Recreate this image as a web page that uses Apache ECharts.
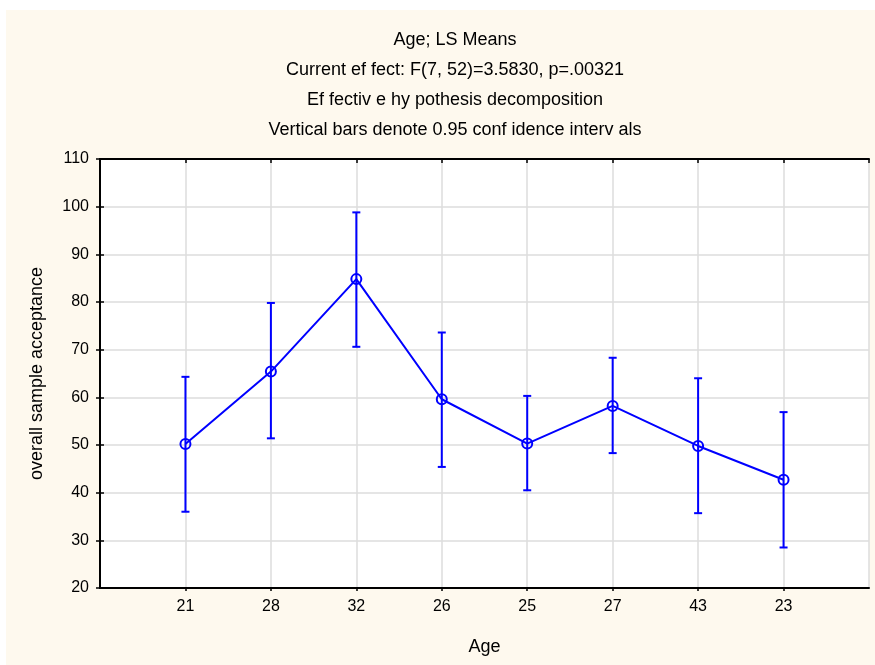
<!DOCTYPE html>
<html>
<head>
<meta charset="utf-8">
<script src="https://cdn.jsdelivr.net/npm/echarts@6/dist/echarts.min.js"></script>
<style>
  html, body { margin: 0; padding: 0; background: #ffffff; }
  #frame { position: absolute; left: 6px; top: 10px; width: 869px; height: 655px; background: #fef9ee; }
  #chart { position: absolute; left: 0; top: 0; width: 875px; height: 665px; }
</style>
</head>
<body>
<div id="frame"></div>
<div id="chart"></div>
<script>
// Age groups in plotting order
const ages = ['21', '28', '32', '26', '25', '27', '43', '23'];
// LS means of overall sample acceptance
const means = [50.2, 65.4, 84.8, 59.6, 50.3, 58.2, 49.8, 42.7];
// 95% confidence interval bounds
const lower = [36.0, 51.4, 70.6, 45.4, 40.5, 48.3, 35.7, 28.5];
const upper = [64.3, 79.8, 98.8, 73.6, 60.3, 68.3, 64.0, 56.9];
// y-axis range
const yMin = 20, yMax = 110, yStep = 10;

const titleLines = [
  'Age; LS Means',
  'Current ef fect: F(7, 52)=3.5830, p=.00321',
  'Ef fectiv e hy pothesis decomposition',
  'Vertical bars denote 0.95 conf idence interv als'
];

const FONT = 'Liberation Sans, Arial, sans-serif';
const BLUE = '#0000ff';

const chart = echarts.init(document.getElementById('chart'), null, { renderer: 'canvas' });

const catLabel = v => (v >= 1 && v <= ages.length) ? ages[v - 1] : '';

const option = {
  backgroundColor: 'transparent',
  animation: false,
  title: {
    text: titleLines.join('\n'),
    left: 450,
    top: 20,
    textAlign: 'center',
    textStyle: { fontFamily: FONT, fontSize: 18, fontWeight: 'normal', color: '#000', lineHeight: 30 }
  },
  grid: { left: 100, top: 159, right: 6, bottom: 77, containLabel: false,
          show: true, backgroundColor: '#ffffff', borderWidth: 0 },
  xAxis: [{
    type: 'value',
    min: 0, max: ages.length + 1, interval: 1,
    name: 'Age', nameLocation: 'middle', nameGap: 50,
    nameTextStyle: { fontFamily: FONT, fontSize: 18, color: '#000' },
    axisLine: { lineStyle: { color: '#000', width: 2 } },
    axisTick: { show: true, inside: false, length: 3, lineStyle: { color: '#000', width: 1.5 } },
    axisLabel: { fontFamily: FONT, fontSize: 16, color: '#000', margin: 11, formatter: catLabel,
                 showMinLabel: false, showMaxLabel: false },
    splitLine: { show: true, lineStyle: { color: '#dcdcdc', width: 1.5 } }
  }, {
    type: 'value', position: 'top',
    min: 0, max: ages.length + 1, interval: 1,
    axisLine: { show: true, lineStyle: { color: '#000', width: 2 } },
    axisTick: { show: true, inside: true, length: 4, lineStyle: { color: '#000', width: 1.5 } },
    axisLabel: { show: false },
    splitLine: { show: false }
  }],
  yAxis: [{
    type: 'value',
    min: yMin, max: yMax, interval: yStep,
    name: 'overall sample acceptance', nameLocation: 'middle', nameGap: 54, nameRotate: 90,
    nameTextStyle: { fontFamily: FONT, fontSize: 18, color: '#000' },
    axisLine: { show: true, lineStyle: { color: '#000', width: 2 } },
    axisTick: { show: true, inside: true, length: 4, lineStyle: { color: '#000', width: 1.5 } },
    axisLabel: { fontFamily: FONT, fontSize: 16, color: '#000', margin: 11 },
    splitLine: { show: true, lineStyle: { color: '#dcdcdc', width: 1.5 } }
  }, {
    type: 'value', position: 'right',
    min: yMin, max: yMax, interval: yStep,
    axisLine: { show: true, lineStyle: { color: '#000', width: 2 } },
    axisTick: { show: true, inside: true, length: 4, lineStyle: { color: '#000', width: 1.5 } },
    axisLabel: { show: false },
    splitLine: { show: false }
  }],
  series: [{
    // confidence interval whiskers
    type: 'custom',
    data: ages.map((a, i) => [i + 1, lower[i], upper[i]]),
    z: 3,
    renderItem: (params, api) => {
      const x = api.value(0);
      const lo = api.coord([x, api.value(1)]);
      const hi = api.coord([x, api.value(2)]);
      const cap = 4;
      const style = { stroke: BLUE, lineWidth: 2, fill: null };
      return {
        type: 'group',
        children: [
          { type: 'line', shape: { x1: lo[0], y1: lo[1], x2: hi[0], y2: hi[1] }, style },
          { type: 'line', shape: { x1: hi[0] - cap, y1: hi[1], x2: hi[0] + cap, y2: hi[1] }, style },
          { type: 'line', shape: { x1: lo[0] - cap, y1: lo[1], x2: lo[0] + cap, y2: lo[1] }, style }
        ]
      };
    }
  }, {
    // LS means
    type: 'line',
    data: means.map((m, i) => [i + 1, m]),
    z: 4,
    symbol: 'circle',
    symbolSize: 10,
    lineStyle: { color: BLUE, width: 2 },
    itemStyle: { color: 'rgba(0,0,0,0)', borderColor: BLUE, borderWidth: 2 }
  }]
};

chart.setOption(option);
</script>
</body>
</html>
